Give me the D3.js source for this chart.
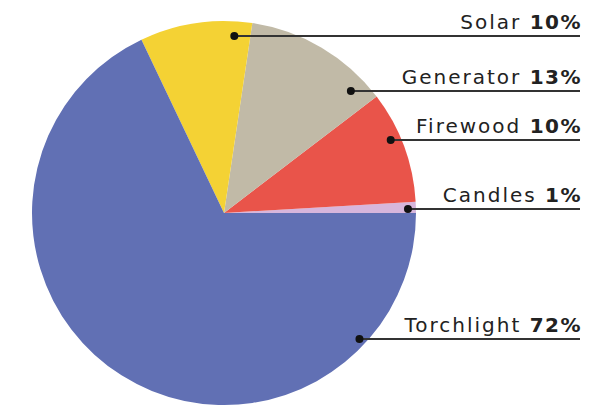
<!DOCTYPE html>
<html lang="en">
<head>
  <meta charset="UTF-8" />
  <title>Lighting sources</title>
  <script src="https://d3js.org/d3.v7.min.js"></script>
  <style>
    body {
      margin: 0;
      background: #fff;
    }
    svg {
      display: block;
    }
    .label {
      font-family: "DejaVu Sans", sans-serif;
      font-size: 20px;
      letter-spacing: 2px;
      fill: #222;
    }
    .label .pct {
      font-weight: 700;
      letter-spacing: 1.5px;
    }
  </style>
</head>
<body>
  <div id="chart"></div>
  <script>
    // data, in the order the slices run (counter-clockwise from 3 o'clock)
    const categories = ["Candles", "Firewood", "Generator", "Solar", "Torchlight"];
    const values = [1, 10, 13, 10, 72];
    const colors = ["#d7b6dc", "#e9544a", "#c1baa7", "#f4d234", "#6170b4"];

    const width = 603, height = 405;
    const cx = 224, cy = 213, radius = 192;
    const labelRight = 582;
    // callout layout, one per category: line height and how far out the dot sits
    const labelY = [209, 140, 91, 36, 339];
    const dotRadius = [184, 182, 176, 177.3, 185];

    const svg = d3.select("#chart")
      .append("svg")
      .attr("width", width)
      .attr("height", height);

    const g = svg.append("g")
      .attr("transform", `translate(${cx},${cy})`);

    const pie = d3.pie()
      .sort(null)
      .value(d => d.value)
      .startAngle(Math.PI / 2)
      .endAngle(Math.PI / 2 - 2 * Math.PI);

    const arc = d3.arc()
      .innerRadius(0)
      .outerRadius(radius);

    const rows = categories.map((c, i) => ({ name: c, value: values[i], color: colors[i] }));
    const arcs = pie(rows);

    g.selectAll("path.slice")
      .data(arcs)
      .enter()
      .append("path")
      .attr("class", "slice")
      .attr("fill", d => d.data.color)
      .attr("d", arc);

    // callouts: dot where the horizontal line meets the slice, line out to the right
    const callouts = svg.append("g");
    arcs.forEach((d, i) => {
      const y = labelY[i];
      const dy = y - cy;
      const r = dotRadius[i];
      const x = cx + Math.sqrt(Math.max(0, r * r - dy * dy));

      callouts.append("line")
        .attr("x1", x)
        .attr("x2", 580)
        .attr("y1", y)
        .attr("y2", y)
        .attr("stroke", "#333")
        .attr("stroke-width", 2);

      callouts.append("circle")
        .attr("cx", x)
        .attr("cy", y)
        .attr("r", 4)
        .attr("fill", "#111");

      const t = callouts.append("text")
        .attr("class", "label")
        .attr("x", labelRight)
        .attr("y", y - 7)
        .attr("text-anchor", "end");
      t.append("tspan").text(d.data.name + " ");
      t.append("tspan").attr("class", "pct").text(d.data.value + "%");
    });
  </script>
</body>
</html>
